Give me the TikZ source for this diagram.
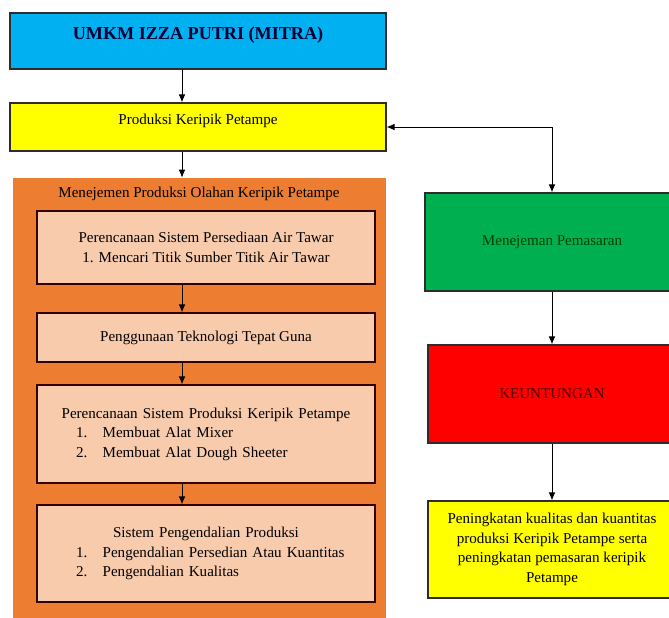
\documentclass[tikz,border=0pt]{standalone}
\usepackage{fontspec}
\setmainfont{Liberation Serif}
\usetikzlibrary{arrows.meta}
\definecolor{umkmblue}{RGB}{0,176,240}
\definecolor{prodyellow}{RGB}{255,255,0}
\definecolor{mgmtorange}{RGB}{237,125,49}
\definecolor{stepfill}{RGB}{248,203,173}
\definecolor{pasargreen}{RGB}{0,176,80}
\definecolor{untungred}{RGB}{255,0,0}
\definecolor{lineclr}{RGB}{45,45,45}
\begin{document}
\begin{tikzpicture}[x=0.75pt, y=-0.75pt,
    every node/.style={font=\fontsize{11.3}{14.6}\selectfont},
    box/.style={rectangle, draw=lineclr, line width=0.8pt, inner sep=0pt},
    stepbox/.style={box, fill=stepfill, draw=black!80!red, minimum width=253.5pt},
    arr/.style={draw=black, line width=0.75pt},
    >={Latex[length=6pt,width=5pt]}]
    \useasboundingbox (0,0) rectangle (669,618);
    % top column
    \node[box, fill=umkmblue, minimum width=282pt, minimum height=42pt,
        text height=10pt, text depth=13pt, text=black!80!blue,
        font=\fontsize{13.6}{16}\selectfont\bfseries] (umkm) at (198,41) {UMKM IZZA PUTRI (MITRA)};
    \node[box, fill=prodyellow, minimum width=282pt, minimum height=36pt,
        text height=8pt, text depth=12pt] (prod) at (198,127) {Produksi Keripik Petampe};
    % management block
    \node[rectangle, fill=mgmtorange, minimum width=279.75pt, minimum height=330pt] (mgmt) at (199.5,398) {};
    \node (mgmttitle) at (199,194) {Menejemen Produksi Olahan Keripik Petampe};
    \node[stepbox, minimum height=54.75pt, align=center] (step1) at (206,247.5)
        {Perencanaan Sistem Persediaan Air Tawar\\1. Mencari Titik Sumber Titik Air Tawar};
    \node[stepbox, minimum height=36.75pt] (step2) at (206,337.5) {Penggunaan Teknologi Tepat Guna};
    \node[stepbox, minimum height=73.5pt, text width=210pt, align=left] (step3) at (206,434)
        {\makebox[\linewidth][c]{Perencanaan Sistem Produksi Keripik Petampe}\\
         \hspace*{7.5pt}\makebox[20pt][l]{1.}Membuat Alat Mixer\\
         \hspace*{7.5pt}\makebox[20pt][l]{2.}Membuat Alat Dough Sheeter};
    \node[stepbox, minimum height=72.75pt, text width=210pt, align=left] (step4) at (206,553.5)
        {\makebox[\linewidth][c]{Sistem Pengendalian Produksi}\\
         \hspace*{7.5pt}\makebox[20pt][l]{1.}Pengendalian Persedian Atau Kuantitas\\
         \hspace*{7.5pt}\makebox[20pt][l]{2.}Pengendalian Kualitas};
    % right column
    \node[box, fill=pasargreen, minimum width=190.5pt, minimum height=73.5pt,
        text=black!75!green] (pasar) at (552,242) {Menejeman Pemasaran};
    \node[box, fill=untungred, minimum width=186pt, minimum height=73.5pt,
        text=black!70!red] (untung) at (552,394) {KEUNTUNGAN};
    \node[box, fill=prodyellow, minimum width=186pt, minimum height=72.75pt,
        align=center] (hasil) at (552,549.5)
        {Peningkatan kualitas dan kuantitas\\produksi Keripik Petampe serta\\peningkatan pemasaran keripik\\Petampe};
    % connectors
    \coordinate (spine) at (182,0);
    \draw[arr, ->] (umkm.south -| spine) -- (prod.north -| spine);
    \draw[arr, ->] (prod.south -| spine) -- (mgmt.north -| spine);
    \draw[arr, ->] (step1.south -| spine) -- (step2.north -| spine);
    \draw[arr, ->] (step2.south -| spine) -- (step3.north -| spine);
    \draw[arr, ->] (step3.south -| spine) -- (step4.north -| spine);
    \draw[arr, <->] (prod.east) -| (pasar.north);
    \draw[arr, ->] (pasar.south) -- (untung.north);
    \draw[arr, ->] (untung.south) -- (hasil.north);
\end{tikzpicture}
\end{document}
